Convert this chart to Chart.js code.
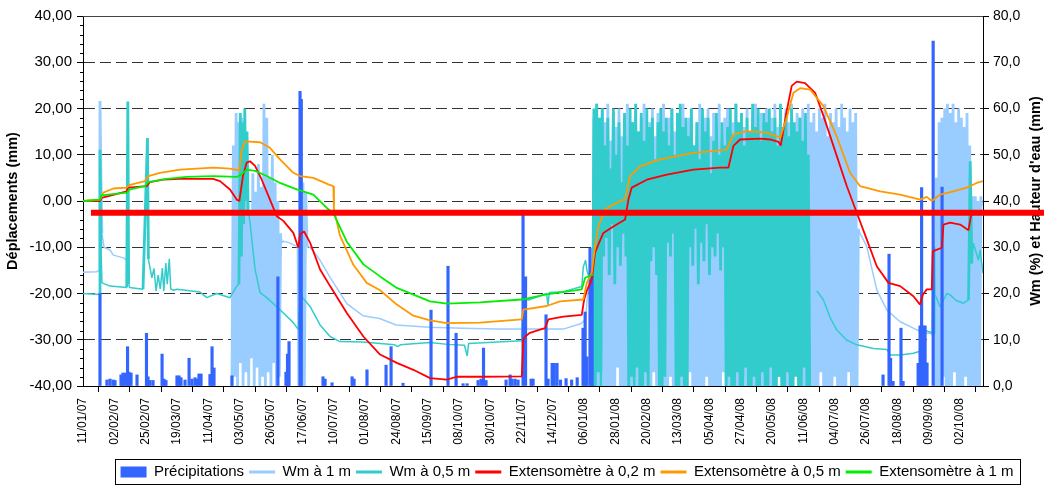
<!DOCTYPE html>
<html>
<head>
<meta charset="utf-8">
<script src="https://cdn.jsdelivr.net/npm/chart.js@4.4.1/dist/chart.umd.min.js"></script>
<style>
  html, body { margin: 0; padding: 0; background: #fff; }
  #wrap { width: 1044px; height: 486px; position: relative; }
</style>
</head>
<body>
<div id="wrap"><canvas id="chart"></canvas></div>
<script>
// x values are days counted from 11/01/07
const xTickLabels = ['11/01/07', '02/02/07', '25/02/07', '19/03/07', '11/04/07', '03/05/07', '26/05/07',
  '17/06/07', '10/07/07', '01/08/07', '24/08/07', '15/09/07', '08/10/07', '30/10/07', '22/11/07',
  '14/12/07', '06/01/08', '28/01/08', '20/02/08', '13/03/08', '05/04/08', '27/04/08', '20/05/08',
  '11/06/08', '04/07/08', '26/07/08', '18/08/08', '09/09/08', '02/10/08'];
const xStepDays = 22.5;
const xMaxDays = 646.5;

// threshold drawn in red (mm)
const seuil = -2.55;
const seuilDebut = 5.7;

// Précipitations (mm) : [jour, valeur]
const precip = [[12.2, 20], [17.2, 1.3], [19.4, 1.5], [21.6, 1.3], [23, 1.2], [27.3, 2.4], [28.7, 2.8], [30.2, 2.8],
  [32, 8.5], [33, 3], [34.5, 2.8], [38.8, 2.4], [45.6, 11.4], [46.7, 2], [48.1, 1.2], [50.3, 1.2], [56.8, 6.9],
  [58.2, 1.5], [59.6, 1.2], [67.5, 2.2], [69, 2.2], [70.4, 1.8], [73.3, 1.3], [76.2, 6], [78.3, 1.5], [80.5, 1.8],
  [81.9, 1.5], [83.3, 2.6], [84.8, 2.6], [91.2, 2.5], [92.7, 8.5], [94.1, 3.9], [107, 2.2], [140, 23.6],
  [145.8, 3], [146.9, 6.9], [148, 9.6], [155.9, 63.7], [156.8, 62], [172.4, 2], [173.9, 1.5], [178.9, 0.7],
  [193.3, 2], [194.7, 1.5], [204, 3.5], [217.7, 4.5], [221.3, 8.5], [229.9, 0.6], [250, 16.4], [262.2, 25.9],
  [268, 11.4], [273, 0.5], [275.9, 0.5], [283.8, 1.2], [285.9, 1.5], [287.7, 8.2], [289.5, 1.2], [303.9, 1.3],
  [306.8, 2.4], [308.2, 1.5], [310.4, 1.5], [312.5, 1.3], [316.1, 38], [317.9, 23.6], [321.9, 1.5], [323.3, 1.5],
  [332.6, 15.4], [334.1, 1.5], [337, 4.9], [338.5, 4.9], [340.5, 4.9], [343, 1.3], [347, 1.6], [351, 1.3],
  [355, 1.8], [359.2, 12.5], [360.7, 16], [362, 6.3], [364.2, 29.8], [365.7, 24], [574.7, 2.4], [579, 28.5],
  [580.1, 6], [581.9, 1], [587.6, 12.5], [589.1, 1], [599.9, 4.9], [601.3, 13], [602.4, 42.9], [603.4, 13],
  [604.9, 13], [606.3, 5], [610.7, 74.6], [617.1, 43]];

// Wm à 1 m (%)
const wm1A = [[0, 24.6], [9.8, 24.7], [11.5, 25], [12.2, 61.6], [12.9, 45], [13.6, 33], [15.1, 30], [19.4, 29.4],
  [21.8, 28.3], [29, 27.7], [32.3, 27]];
const wm1BurstAStart = 107;
const wm1BurstA = [0, 52, 2, 59, 0, 57, 5, 58, 0, 44, 3, 40, 0, 38, 6, 46, 0, 42, 4, 48,
  0, 43, 2, 61, 0, 58, 3, 45, 0, 50, 5, 44, 0, 40, 2, 33, 31];
const wm1B = [[144, 31.3], [148, 31], [152, 30.4], [154.5, 30.2]];
const wm1BurstBStart = 155;
const wm1BurstB = [0, 43, 0, 44, 0, 42, 30];
const wm1C = [[162, 30.2], [166, 29], [170, 27.3], [177.5, 23.5], [189.5, 17.8], [201, 15.2], [213, 14.6],
  [225, 13.2], [249, 12.7], [273, 12.5], [297, 12.3], [316, 12.3], [345, 12.3], [358, 13.5], [361, 14.5],
  [362.5, 20], [365, 22]];
const wm1BurstCStart = 366;
const wm1BurstC = [
  0, 58, 0, 61, 0, 55, 3, 60, 0, 57,
  0, 61, 0, 53, 0, 59, 0, 56, 4, 60,
  0, 54, 0, 58, 0, 61, 0, 50, 0, 57,
  2, 60, 0, 55, 0, 58, 0, 61, 0, 52,
  0, 57, 0, 60, 3, 54, 0, 59, 0, 56,
  0, 61, 0, 53, 0, 58, 2, 60, 0, 55,
  0, 59, 0, 56, 0, 61, 0, 54, 0, 58,
  3, 60, 0, 52, 0, 57, 0, 61, 0, 55,
  0, 58, 2, 60, 0, 54, 0, 59, 0, 56,
  0, 61, 0, 53, 3, 58, 0, 60, 0, 55,
  0, 57, 0, 61, 0, 52, 0, 59, 2, 56,
  0, 60, 0, 54, 0, 58, 0, 61, 0, 55,
  3, 59, 0, 57, 0, 60, 0, 53, 0, 58,
  0, 61, 0, 56, 2, 59, 0, 54, 0, 60,
  0, 57, 0, 61, 0, 55, 3, 59, 0, 58,
  0, 60, 0, 56, 0, 61, 2, 57, 0, 59,
  0, 55, 0, 60, 3, 58, 0, 61, 0, 54,
  0, 59, 0, 57, 2, 60, 0, 56, 0, 61,
  0, 58, 0, 55, 3, 60, 0, 57, 0, 59,
  0, 34];
const wm1D = [[558, 33.1], [563, 30.2], [570.2, 20.8], [577.5, 16.4], [587, 13.9], [596.5, 12.5],
  [603.7, 11.4], [609.5, 11.4]];
const wm1BurstDStart = 610;
const wm1BurstD = [11, 30, 0, 45, 0, 57, 0, 58, 2, 60, 0, 61, 0, 59, 0, 61, 3, 57, 0, 60,
  0, 58, 0, 56, 2, 59, 0, 52, 0, 41, 0, 41, 0, 40, 0, 41, 39];

// Wm à 0,5 m (%)
const wm05A = [[0, 20], [11.5, 19.8], [12.2, 51.1], [12.9, 30], [13.6, 22.3], [19.4, 21.6], [31.4, 21.3],
  [32.2, 61.5], [32.8, 22], [33.5, 21.3], [43.1, 20.9], [46.3, 53.6], [47, 27.4], [49.5, 23.4], [51, 25.4],
  [52.5, 20.5], [54, 24], [55.5, 21], [57, 25.5], [58, 20.5], [59.5, 26.6], [60.5, 22], [62, 27.5], [63, 21],
  [65, 20.7], [67.5, 20.9], [84.1, 20.3], [88.9, 19.1], [96.1, 20], [105.6, 19.1], [110.4, 21.6], [112, 22],
  [113, 59], [113.8, 28], [114.6, 57], [115.4, 35], [116.2, 60], [117, 40], [117.8, 55], [118.6, 38],
  [120, 35.3], [123.6, 25.2], [127.2, 20.2], [132, 19.1], [141.5, 16.5], [151.1, 13.7], [154.7, 12.2],
  [156.1, 19.7], [163.1, 17.2], [170.3, 13.2], [177.5, 10.7], [184.6, 9.6], [201, 9.5], [224, 8.9],
  [226, 8.5], [228, 8.9], [249, 9.4], [262, 9.0], [274, 8.8], [276, 6.5], [277, 9.2], [315.2, 9.8],
  [316.3, 19.1], [320, 18.6], [333, 20], [334, 17.5], [335, 20.2], [345, 20.4], [358.3, 21.5], [359.4, 25.8],
  [361, 27.2], [362, 25], [364, 22.9], [365.5, 22]];
const wm05BurstStart = 366;
const wm05Burst = [
  0, 60, 0, 61, 3, 58, 0, 60, 28, 52,
  32, 58, 24, 47, 35, 60, 22, 50, 30, 57,
  26, 44, 33, 59, 28, 52, 0, 60, 2, 57,
  0, 61, 4, 55, 0, 59, 0, 53, 3, 60,
  0, 56, 27, 58, 30, 49, 24, 57, 0, 60,
  0, 55, 2, 58, 31, 52, 28, 60, 33, 50,
  0, 59, 0, 61, 2, 56, 0, 58, 0, 54,
  30, 60, 26, 52, 34, 57, 22, 49, 31, 60,
  27, 55, 35, 58, 24, 46, 30, 53, 28, 59,
  33, 50, 25, 57, 30, 52, 0, 56, 2, 60,
  0, 54, 0, 61, 3, 57, 0, 59, 0, 52,
  4, 58, 0, 55, 0, 61, 2, 56, 0, 60,
  0, 53, 3, 59, 0, 57, 0, 60, 4, 55,
  0, 58, 0, 52, 2, 61, 0, 56, 0, 59,
  3, 54, 0, 60, 0, 57, 2, 55, 0, 58,
  0, 53, 4, 59, 0, 50, 0];
const wm05B = [[527.1, 20.6], [531.9, 18.6], [536.7, 14.8], [541.5, 12.1], [548.7, 9.9], [555.9, 8.9],
  [567.8, 8.1], [577.5, 7.9], [579.8, 6.7], [587, 6.7], [596.5, 7.1], [601.3, 7.5], [602.6, 11.4],
  [606.1, 11.9], [610.9, 11.4], [611.3, 30], [611.8, 20], [615.7, 17.1], [620.5, 20], [622.9, 19.7],
  [627.2, 18.5], [632.5, 17.9], [636.1, 18.6], [637.3, 48.6], [638.5, 26.5], [639.6, 30.9], [643.2, 27.2],
  [644.4, 29.4], [646.5, 24.4]];

// Extensomètres (mm)
const ext02 = [[0, 0], [12.2, 0], [13.4, 0.7], [31.4, 2.1], [32.3, 2.9], [45.8, 3.2], [48.1, 4.1], [57.5, 4.6],
  [69.7, 4.8], [93.4, 4.8], [98.4, 4.3], [105.6, 2.5], [110.4, 0.3], [112.3, 0], [114.9, 5.4], [117.6, 8.3],
  [120, 8.6], [123.6, 7.6], [128.4, 4.6], [134.3, 0.3], [139.2, -3.3], [143.9, -4.3], [151.1, -6.9],
  [154.7, -10.1], [155.9, -7.2], [158.8, -6.6], [163.1, -9.0], [170.3, -14.8], [177.5, -18.4], [189.5, -24.2],
  [201.4, -29.3], [213.4, -33.2], [225.4, -35], [237.3, -36.5], [249.3, -38.3], [261.3, -38.6], [268.5, -38.0],
  [285.2, -38], [315.2, -37.9], [316.3, -30], [317.6, -29.3], [321.1, -28.5], [328.3, -27.8], [331.9, -27.5],
  [334.3, -25.6], [345.1, -25.0], [358.3, -24.6], [360, -21.3], [361.9, -19.4], [365.5, -17], [367.8, -11.2],
  [370.2, -9.4], [373.8, -6.9], [381, -5.5], [389.4, -4.0], [391.8, 0.3], [394.2, 2.9], [405, 4.6],
  [419.4, 5.7], [438.5, 6.8], [457.7, 7.2], [463.6, 7.2], [467.2, 11.9], [472, 13.3], [486.4, 13.5],
  [493.6, 13.3], [499.5, 12.8], [501.2, 12.0], [505.5, 19.5], [509.1, 24.9], [512.7, 25.8], [518.7, 25.5],
  [525.9, 23.4], [531.9, 18.4], [541.5, 9.7], [548.7, 3.2], [555.9, -2.6], [563, -8.3], [570.2, -14.1],
  [578.6, -17.7], [587, -18.4], [596.5, -20.6], [601.3, -22.4], [603.3, -20.2], [606.1, -19.1], [609.7, -19.1],
  [610.4, -10.9], [616.9, -10.1], [618.1, -5.1], [622.9, -4.7], [630.1, -5.1], [636.1, -6.3], [637.8, -3.3],
  [639.6, -2.6]];
const ext05 = [[0, 0], [12.2, 0.3], [14.6, 1.8], [21.8, 2.7], [31.4, 2.9], [33.8, 3.5], [44.5, 4.3], [46.9, 5.4],
  [55.3, 6.1], [69.7, 6.8], [93.6, 7.2], [105.6, 7.0], [112.3, 6.6], [114, 11.1], [116.4, 12.9], [127.2, 12.7],
  [134.3, 11.5], [141.5, 9.0], [151.1, 6.1], [155.9, 5.4], [165.5, 5.0], [176.2, 3.6], [179.8, 3.2],
  [180.3, -1.8], [184.6, -7.5], [194.2, -13.8], [203.8, -17.7], [213.4, -19.3], [225.4, -22.4], [237.3, -24.8],
  [249.3, -25.8], [261.3, -26.4], [285.2, -26.3], [315.2, -25.6], [316.3, -23.5], [333.1, -22.7], [342.7, -21.7],
  [359.4, -21.3], [361.9, -17.7], [365.5, -15.5], [367.8, -9.8], [370.2, -5.5], [375, -1.8], [383.4, -0.4],
  [389.4, 0.4], [393, 5.4], [400.2, 7.5], [414.5, 9.0], [438.5, 10.4], [462.4, 11.1], [467.2, 14.4],
  [476.9, 15.1], [491.2, 14.8], [500.8, 13.7], [505.5, 18.0], [510.3, 23.4], [515.1, 24.4], [522.3, 24.1],
  [531.9, 20.5], [541.5, 13.9], [551, 6.1], [558.2, 3.2], [572.6, 2.1], [587, 1.4], [601.3, 0.3], [606.1, 0.9],
  [609.7, 0], [615.7, 1.4], [625.2, 2.1], [634.8, 2.9], [642, 3.9], [646.5, 4.3]];
const ext1 = [[0, 0], [12.2, 0.3], [13.4, 1.2], [31.4, 1.8], [33.8, 2.5], [44.5, 3.2], [46.9, 4.1], [60.1, 4.8],
  [74.5, 5.2], [93.6, 5.4], [110.4, 5.2], [114, 5.8], [117.6, 6.8], [123.6, 6.5], [132, 5.4], [141.5, 3.9],
  [153.5, 2.5], [165.5, 1.4], [175.1, -1.5], [179.8, -2.6], [189.5, -8.8], [201.4, -13.7], [213.4, -16.3],
  [225.4, -18.8], [249.3, -21.7], [261.3, -22.2], [285.2, -21.9], [315.2, -21.3], [333.1, -20.2],
  [358.3, -19.1], [360.7, -16.6], [366.6, -15.9]];

const colors = {
  precip: '#3366FF', wm1: '#99CCFF', wm05: '#33CCCC',
  ext02: '#FF0000', ext05: '#FF9900', ext1: '#00EE00', seuil: '#FF0000'
};
const font = "'Liberation Sans', Arial, sans-serif";
const rightTitle = "Wm (%) et Hauteur d'eau (mm)";
const legendShift = { x: 45, y: 3.5 };

const pts = arr => arr.map(([x, y]) => ({ x, y }));
const burst = (start, vals) => vals.map((y, i) => ({ x: start + i, y }));
const gap = d => ({ x: d, y: null });

const wm1Data = [...pts(wm1A), gap(33), ...burst(wm1BurstAStart, wm1BurstA), ...pts(wm1B),
  ...burst(wm1BurstBStart, wm1BurstB), ...pts(wm1C), ...burst(wm1BurstCStart, wm1BurstC), ...pts(wm1D),
  ...burst(wm1BurstDStart, wm1BurstD)];
const wm05Data = [...pts(wm05A), ...burst(wm05BurstStart, wm05Burst), gap(524), ...pts(wm05B)];

// extra drawing: plot border, minor ticks, right title, legend frame, red threshold
const decor = {
  id: 'decor',
  afterLayout(chart) {
    const L = chart.legend;
    L.left += legendShift.x; L.right += legendShift.x;
    L.top += legendShift.y; L.bottom += legendShift.y;
  },
  afterDraw(chart) {
    const { ctx, chartArea: a, scales: { x, y, y2 } } = chart;
    ctx.save();

    ctx.strokeStyle = '#444';
    ctx.lineWidth = 1;
    ctx.beginPath();
    ctx.moveTo(a.left, a.top + 0.5);
    ctx.lineTo(a.right, a.top + 0.5);
    ctx.stroke();

    ctx.strokeStyle = '#000';
    ctx.beginPath();
    for (let v = -40; v <= 40; v += 2) {
      if (v % 10 === 0) continue;
      const py = Math.round(y.getPixelForValue(v)) + 0.5;
      ctx.moveTo(a.left - 3, py);
      ctx.lineTo(a.left, py);
    }
    ctx.stroke();

    ctx.save();
    ctx.translate(y2.right - 8, (a.top + a.bottom) / 2);
    ctx.rotate(-Math.PI / 2);
    ctx.font = 'bold 14.5px ' + font;
    ctx.fillStyle = '#000';
    ctx.textAlign = 'center';
    ctx.textBaseline = 'middle';
    ctx.fillText(rightTitle, 0, 0);
    ctx.restore();

    const L = chart.legend;
    const hb = L.legendHitBoxes;
    const x0 = Math.min(...hb.map(h => h.left)) - 6;
    const x1 = Math.max(...hb.map(h => h.left + h.width)) + 6;
    ctx.strokeStyle = '#000';
    ctx.lineWidth = 1;
    ctx.strokeRect(Math.round(x0) + 0.5, Math.round(L.top) - 0.5, Math.round(x1 - x0), 25);

    const ys = y.getPixelForValue(seuil);
    ctx.strokeStyle = colors.seuil;
    ctx.lineWidth = 6;
    ctx.beginPath();
    ctx.moveTo(x.getPixelForValue(seuilDebut), ys);
    ctx.lineTo(chart.width, ys);
    ctx.stroke();

    ctx.restore();
  }
};

const lineDs = (label, data, color, width, axis, order) => ({
  label, data, borderColor: color, backgroundColor: color, borderWidth: width, yAxisID: axis, order,
  pointRadius: 0, tension: 0, fill: false, spanGaps: false, borderJoinStyle: 'bevel'
});
// the moisture records swing hard; steep stretches are drawn a bit wider so they read as a block
const steepWidth = { borderWidth: c => (Math.abs(c.p1.parsed.y - c.p0.parsed.y) >= 12 ? 2.8 : undefined) };

new Chart(document.getElementById('chart'), {
  type: 'line',
  data: {
    datasets: [
      { type: 'bar', label: 'Précipitations', data: pts(precip), yAxisID: 'y2', backgroundColor: colors.precip,
        barThickness: 2.5, order: 4 },
      { ...lineDs('Wm à 1 m', wm1Data, colors.wm1, 1.5, 'y2', 6), segment: steepWidth },
      { ...lineDs('Wm à 0,5 m', wm05Data, colors.wm05, 1.5, 'y2', 5), segment: steepWidth },
      lineDs('Extensomètre à 0,2 m', pts(ext02), colors.ext02, 1.8, 'y', 3),
      lineDs('Extensomètre à 0,5 m', pts(ext05), colors.ext05, 1.8, 'y', 2),
      lineDs('Extensomètre à 1 m', pts(ext1), colors.ext1, 1.8, 'y', 1)
    ]
  },
  options: {
    responsive: true,
    maintainAspectRatio: false,
    animation: false,
    layout: { padding: { top: 16, left: 0, right: 0, bottom: 0 } },
    plugins: {
      tooltip: { enabled: false },
      legend: {
        position: 'bottom',
        labels: {
          usePointStyle: true,
          pointStyleWidth: 26,
          boxHeight: 11,
          padding: 5,
          color: '#000',
          font: { family: font, size: 15 },
          sort: (a, b) => a.datasetIndex - b.datasetIndex,
          generateLabels(chart) {
            const items = Chart.defaults.plugins.legend.labels.generateLabels(chart);
            items.forEach(it => {
              const ds = chart.data.datasets[it.datasetIndex];
              if (ds.type === 'bar') {
                it.pointStyle = 'rect';
                it.fillStyle = ds.backgroundColor;
                it.lineWidth = 0;
              } else {
                it.pointStyle = 'line';
                it.strokeStyle = ds.borderColor;
                it.lineWidth = 3;
              }
            });
            return items;
          }
        }
      }
    },
    scales: {
      x: {
        type: 'linear',
        min: 0,
        max: xMaxDays,
        offset: false,
        afterBuildTicks: s => { s.ticks = xTickLabels.map((_, i) => ({ value: i * xStepDays })); },
        afterFit: s => { s.height = 70; },
        ticks: {
          autoSkip: false, maxRotation: 90, minRotation: 90, padding: 6, color: '#000',
          font: { family: font, size: 12 },
          callback: (v, i) => xTickLabels[i]
        },
        grid: { drawOnChartArea: false, tickLength: 6, tickColor: '#000' },
        border: { color: '#000', width: 1 }
      },
      y: {
        position: 'left',
        min: -40,
        max: 40,
        afterFit: s => { s.width = 83; },
        ticks: {
          stepSize: 10, padding: 5, color: '#000', font: { family: font, size: 15 },
          callback: v => v.toFixed(2).replace('.', ',')
        },
        grid: {
          color: c => (c.tick && Math.abs(c.tick.value) === 40 ? 'rgba(0,0,0,0)' : '#333'),
          lineWidth: 1, tickLength: 6, tickColor: '#000'
        },
        border: { color: '#000', width: 1, dash: [11, 5] },
        title: {
          display: true, text: 'Déplacements (mm)', color: '#000',
          font: { family: font, size: 14.5, weight: 'bold' }, padding: { top: 4, bottom: 0 }
        }
      },
      y2: {
        position: 'right',
        min: 0,
        max: 80,
        afterFit: s => { s.width = 61; },
        ticks: {
          stepSize: 10, padding: 4, color: '#000', font: { family: font, size: 14 },
          callback: v => v.toFixed(1).replace('.', ',')
        },
        grid: { drawOnChartArea: false, tickLength: 6, tickColor: '#000' },
        border: { color: '#000', width: 1 }
      }
    }
  },
  plugins: [decor]
});
</script>
</body>
</html>
